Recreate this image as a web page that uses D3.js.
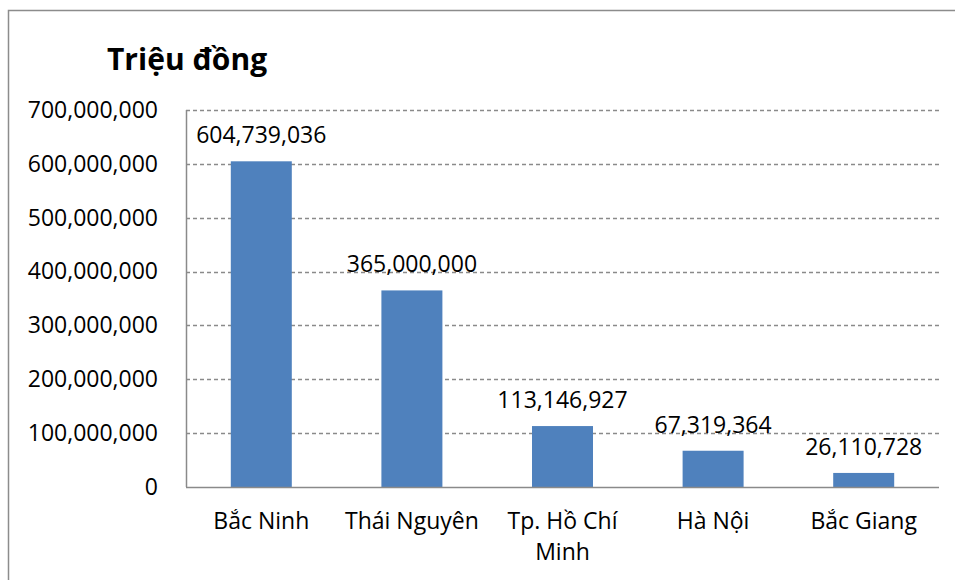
<!DOCTYPE html>
<html>
<head>
<meta charset="utf-8">
<script src="https://cdn.jsdelivr.net/npm/d3@7"></script>
<style>
  html, body { margin: 0; padding: 0; background: #fff; }
  svg { display: block; font-family: "Open Sans", sans-serif; }
</style>
</head>
<body>
<svg id="chart" width="955" height="580"></svg>
<script>
// Revenue by province (đồng)
const provinces = ["Bắc Ninh", "Thái Nguyên", "Tp. Hồ Chí Minh", "Hà Nội", "Bắc Giang"];
const provinceLines = [["Bắc Ninh"], ["Thái Nguyên"], ["Tp. Hồ Chí", "Minh"], ["Hà Nội"], ["Bắc Giang"]];
const revenue = [604739036, 365000000, 113146927, 67319364, 26110728];
const yTicks = [0, 100000000, 200000000, 300000000, 400000000, 500000000, 600000000, 700000000];
const unitTitle = "Triệu đồng";

const svg = d3.select("#chart");
const W = 955, H = 580;
const plot = { left: 186, right: 939, top: 110, bottom: 487 };

// outer frame (extends past the canvas on the right/bottom)
svg.append("rect")
  .attr("x", 8.5).attr("y", 10.5)
  .attr("width", 1200).attr("height", 1200)
  .attr("fill", "none").attr("stroke", "#8c8c8c").attr("stroke-width", 1.5);

const x = d3.scaleBand().domain(provinces).range([plot.left, plot.right]).paddingInner(0.595).paddingOuter(0.2975);
const y = d3.scaleLinear().domain([0, 700000000]).range([plot.bottom, plot.top]);
const fmt = d3.format(",");

// dashed gridlines
svg.append("g").selectAll("line")
  .data(yTicks.filter(d => d > 0))
  .join("line")
  .attr("x1", plot.left).attr("x2", plot.right)
  .attr("y1", d => Math.round(y(d)) + 0.5).attr("y2", d => Math.round(y(d)) + 0.5)
  .attr("stroke", "#8a8a8a").attr("stroke-width", 1.3)
  .attr("stroke-dasharray", "4,3");

// y axis labels
const yAxis = d3.axisLeft(y).tickValues(yTicks).tickFormat(fmt).tickSize(0).tickPadding(28);
const gy = svg.append("g").attr("transform", `translate(${plot.left},0)`).call(yAxis);
gy.select(".domain").remove();
gy.selectAll("text").attr("font-size", 23).attr("fill", "#000").attr("font-family", "Open Sans, sans-serif");

// bars
svg.append("g").selectAll("rect")
  .data(revenue)
  .join("rect")
  .attr("x", (d, i) => x(provinces[i]))
  .attr("width", x.bandwidth())
  .attr("y", d => y(d))
  .attr("height", d => y(0) - y(d))
  .attr("fill", "#4f81bd");

// value labels
svg.append("g").selectAll("text")
  .data(revenue)
  .join("text")
  .attr("x", (d, i) => x(provinces[i]) + x.bandwidth() / 2)
  .attr("y", d => y(d) - 18)
  .attr("text-anchor", "middle")
  .attr("font-size", 23)
  .attr("fill", "#000")
  .text(d => fmt(d));

// axis lines
svg.append("line")
  .attr("x1", plot.left + 0.5).attr("x2", plot.left + 0.5)
  .attr("y1", plot.top).attr("y2", plot.bottom)
  .attr("stroke", "#8a8a8a").attr("stroke-width", 1.5);
svg.append("line")
  .attr("x1", plot.left).attr("x2", plot.right)
  .attr("y1", plot.bottom + 0.5).attr("y2", plot.bottom + 0.5)
  .attr("stroke", "#8a8a8a").attr("stroke-width", 1.5);

// category labels
const cat = svg.append("g").selectAll("text")
  .data(provinceLines)
  .join("text")
  .attr("x", (d, i) => x(provinces[i]) + x.bandwidth() / 2)
  .attr("y", 529)
  .attr("text-anchor", "middle")
  .attr("font-size", 23)
  .attr("fill", "#000");
cat.selectAll("tspan")
  .data(d => d)
  .join("tspan")
  .attr("x", function () { return d3.select(this.parentNode).attr("x"); })
  .attr("dy", (d, i) => i === 0 ? 0 : 31)
  .text(d => d);

// unit title
svg.append("text")
  .attr("x", 107).attr("y", 70)
  .attr("font-size", 30)
  .attr("font-weight", "bold")
  .attr("fill", "#000")
  .text(unitTitle);
</script>
</body>
</html>
